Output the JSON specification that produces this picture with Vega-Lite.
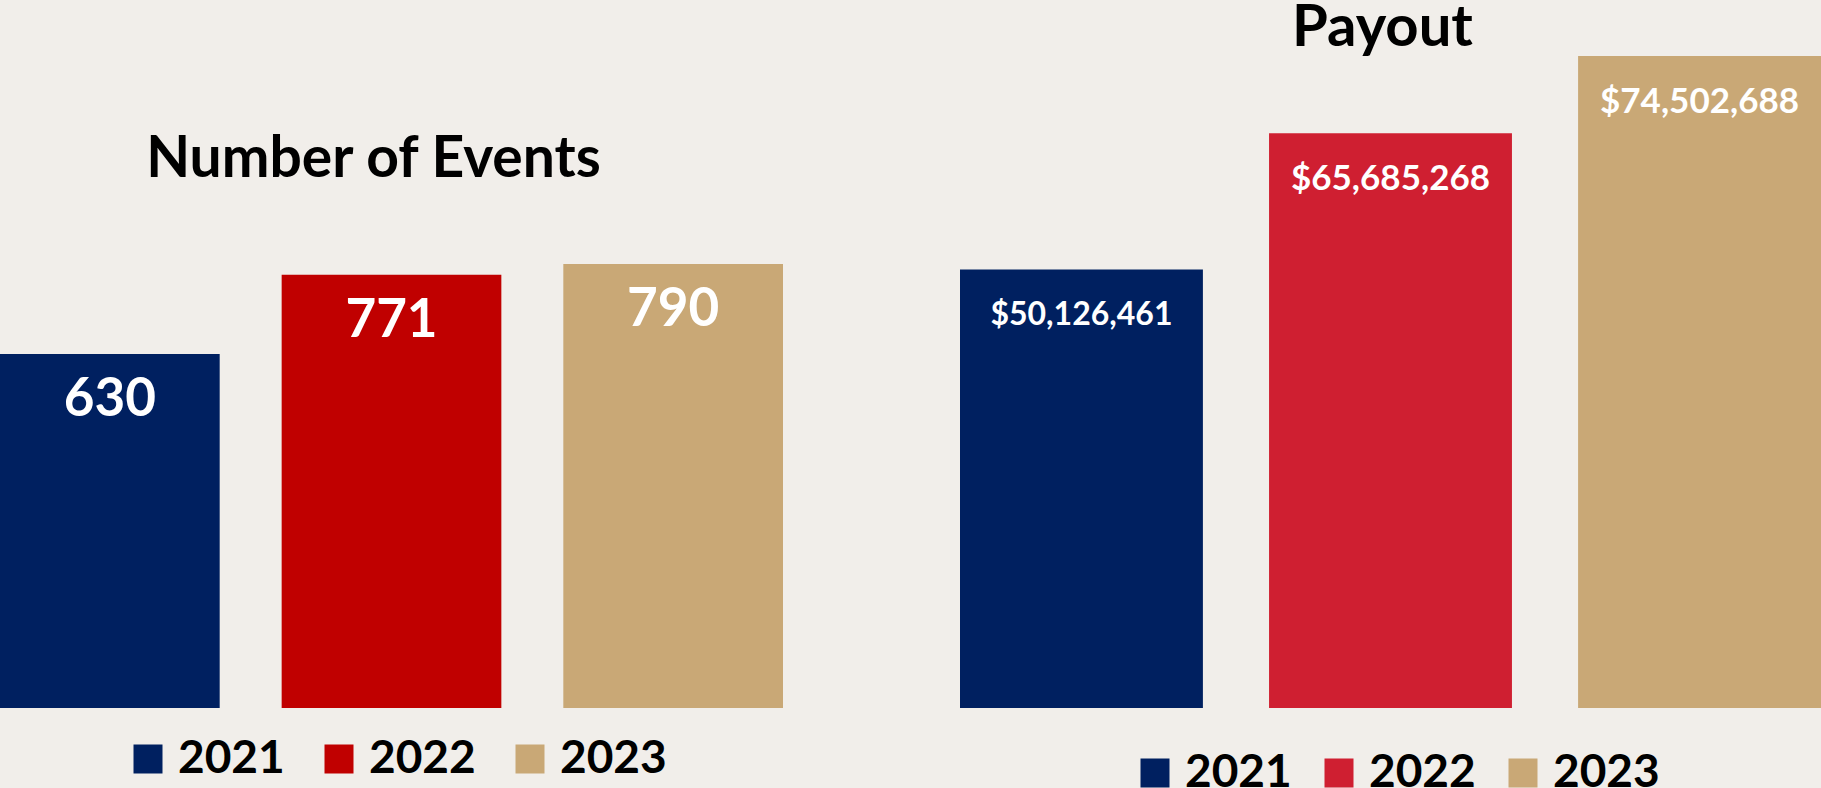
{
  "$schema": "https://vega.github.io/schema/vega-lite/v6.json",
  "background": "#F1EEEA",
  "padding": 0,
  "spacing": 177,
  "config": {"view": {"stroke": null}, "font": "Lato"},
  "resolve": {"scale": {"color": "independent"}},
  "hconcat": [
    {
      "width": 783,
      "height": 658,
      "title": {"text": "Number of Events", "fontSize": 57, "font": "Lato", "fontWeight": "bold", "color": "#000000", "anchor": "middle", "offset": -8, "dy": 131, "dx": -18},
      "data": {"values": [
        {"year": "2021", "events": 630},
        {"year": "2022", "events": 771},
        {"year": "2023", "events": 790}
      ]},
      "encoding": {
        "x": {"field": "year", "type": "nominal", "axis": null, "scale": {"paddingInner": 0.22, "paddingOuter": 0}},
        "y": {"field": "events", "type": "quantitative", "axis": null, "scale": {"domain": [0, 1171], "nice": false}}
      },
      "layer": [
        {
          "mark": {"type": "bar"},
          "encoding": {
            "color": {
              "field": "year", "type": "nominal",
              "scale": {"domain": ["2021", "2022", "2023"], "range": ["#002060", "#C00000", "#C9A876"]},
              "legend": {"orient": "none", "legendX": 125, "legendY": 686, "direction": "horizontal", "title": null, "symbolType": "square", "symbolSize": 841, "symbolStrokeWidth": 0, "symbolOpacity": 1, "labelFontSize": 46, "labelFont": "Lato", "labelFontWeight": "bold", "labelColor": "#000000", "labelOffset": 7, "columnPadding": 31, "padding": 0}
            }
          }
        },
        {
          "mark": {"type": "text", "color": "#FFFFFF", "fontSize": 53, "fontWeight": "bold", "font": "Lato", "baseline": "middle", "dy": 46},
          "encoding": {"text": {"field": "events", "type": "quantitative", "format": "d"}}
        }
      ]
    },
    {
      "width": 861,
      "height": 658,
      "title": {"text": "Payout", "fontSize": 58, "font": "Lato", "fontWeight": "bold", "color": "#000000", "anchor": "middle", "offset": -8, "dx": -8},
      "data": {"values": [
        {"year": "2021", "payout": 50126461},
        {"year": "2022", "payout": 65685268},
        {"year": "2023", "payout": 74502688}
      ]},
      "encoding": {
        "x": {"field": "year", "type": "nominal", "axis": null, "scale": {"paddingInner": 0.214, "paddingOuter": 0}},
        "y": {"field": "payout", "type": "quantitative", "axis": null, "scale": {"domain": [0, 75200000], "nice": false}}
      },
      "layer": [
        {
          "mark": {"type": "bar"},
          "encoding": {
            "color": {
              "field": "year", "type": "nominal",
              "scale": {"domain": ["2021", "2022", "2023"], "range": ["#002060", "#CF1F31", "#C9A876"]},
              "legend": {"orient": "none", "legendX": 172, "legendY": 700, "direction": "horizontal", "title": null, "symbolType": "square", "symbolSize": 841, "symbolStrokeWidth": 0, "symbolOpacity": 1, "labelFontSize": 46, "labelFont": "Lato", "labelFontWeight": "bold", "labelColor": "#000000", "labelOffset": 7, "columnPadding": 24, "padding": 0}
            }
          }
        },
        {
          "mark": {"type": "text", "color": "#FFFFFF", "fontWeight": "bold", "font": "Lato", "baseline": "middle", "dy": 46},
          "encoding": {
            "text": {"field": "payout", "type": "quantitative", "format": "$,.0f"},
            "size": {"condition": {"test": "datum.year == '2021'", "value": 32}, "value": 35}
          }
        }
      ]
    }
  ]
}
